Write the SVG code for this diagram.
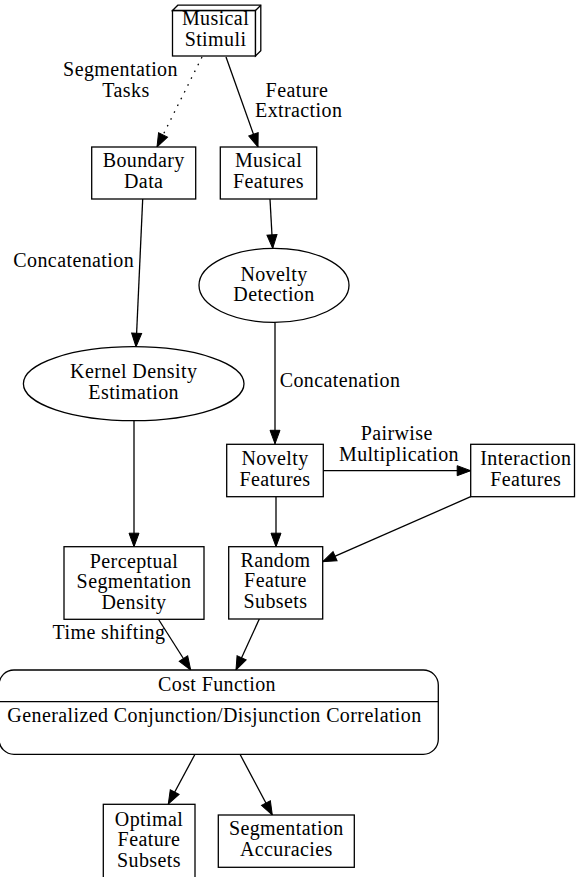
<svg xmlns="http://www.w3.org/2000/svg" width="576" height="877" viewBox="0 0 576 877">
  <style>
    text { font-family: "Liberation Serif", "Times New Roman", serif; font-size: 20px; letter-spacing: 0.4px; fill: #000; text-anchor: middle; }
    .shape { fill: #fff; stroke: #000; stroke-width: 1.3; }
    .edge { fill: none; stroke: #000; stroke-width: 1.3; marker-end: url(#arrow); }
    .dotted { stroke-dasharray: 1.6 6; }
  </style>
  <defs>
    <marker id="arrow" markerUnits="userSpaceOnUse" markerWidth="16" markerHeight="12" refX="13.5" refY="0" viewBox="0 -6 16 12" orient="auto" overflow="visible">
      <path d="M0,-5 L13.5,0 L0,5 z" fill="#000" stroke="#000" stroke-width="1"/>
    </marker>
  </defs>
  <rect width="576" height="877" fill="#fff"/>

  <!-- connectors -->
  <g id="edges">
    <path class="edge dotted" d="M202,57 L157,147"/>
    <path class="edge" d="M226,57 L258,147"/>
    <path class="edge" d="M142.7,199 L136,346.7"/>
    <path class="edge" d="M270,199 L272.7,248.3"/>
    <path class="edge" d="M275,322.3 L275,443.8"/>
    <path class="edge" d="M134,420.7 L134,546.7"/>
    <path class="edge" d="M276,496.7 L276,546.7"/>
    <path class="edge" d="M323.3,470.7 L470.7,470.7"/>
    <path class="edge" d="M470.7,496.7 L322.7,561.7"/>
    <path class="edge" d="M158.3,619 L190.7,670"/>
    <path class="edge" d="M259.3,619 L236,670"/>
    <path class="edge" d="M195,754.3 L168.3,804"/>
    <path class="edge" d="M240,754.3 L272.3,815"/>
    <text x="120.5" y="76">Segmentation</text>
    <text x="126" y="96.5">Tasks</text>
    <text x="297" y="96.5">Feature</text>
    <text x="298.7" y="117">Extraction</text>
    <text x="73.7" y="266.7">Concatenation</text>
    <text x="340" y="387">Concatenation</text>
    <text x="396.7" y="440">Pairwise</text>
    <text x="399" y="460.5">Multiplication</text>
    <text x="109" y="639.3">Time shifting</text>
  </g>

  <g id="musical-stimuli">
    <rect class="shape" x="172.5" y="10.5" width="83" height="45.5"/>
    <path class="shape" d="M172.5,10.5 L177.8,5.2 L260.8,5.2 L260.8,50.7 L255.5,56 L255.5,10.5 Z"/>
    <path d="M255.5,10.5 L260.8,5.2" fill="none" stroke="#000" stroke-width="1.3"/>
    <text x="215.5" y="25">Musical</text>
    <text x="215.5" y="45.5">Stimuli</text>
  </g>

  <g id="boundary-data">
    <rect class="shape" x="91.7" y="147" width="104" height="52"/>
    <text x="143.7" y="167">Boundary</text>
    <text x="143.7" y="187.5">Data</text>
  </g>

  <g id="musical-features">
    <rect class="shape" x="220.3" y="147" width="96.4" height="52"/>
    <text x="268.5" y="167">Musical</text>
    <text x="268.5" y="187.5">Features</text>
  </g>

  <g id="novelty-detection">
    <ellipse class="shape" cx="274" cy="285.3" rx="75" ry="37"/>
    <text x="274" y="280.5">Novelty</text>
    <text x="274" y="301">Detection</text>
  </g>

  <g id="kernel-density-estimation">
    <ellipse class="shape" cx="133.7" cy="383.7" rx="110.3" ry="37"/>
    <text x="133.7" y="378.3">Kernel Density</text>
    <text x="133.7" y="398.8">Estimation</text>
  </g>

  <g id="novelty-features">
    <rect class="shape" x="226.7" y="444.3" width="96.6" height="52.4"/>
    <text x="275" y="465">Novelty</text>
    <text x="275" y="485.5">Features</text>
  </g>

  <g id="interaction-features">
    <rect class="shape" x="470.7" y="444.3" width="103.8" height="52.4"/>
    <text x="525.8" y="465">Interaction</text>
    <text x="525.8" y="485.5">Features</text>
  </g>

  <g id="perceptual-segmentation-density">
    <rect class="shape" x="64" y="546.7" width="140" height="72.6"/>
    <text x="134" y="567.5">Perceptual</text>
    <text x="134" y="588">Segmentation</text>
    <text x="134" y="608.5">Density</text>
  </g>

  <g id="random-feature-subsets">
    <rect class="shape" x="228.7" y="546.7" width="94" height="72.3"/>
    <text x="275.5" y="566.7">Random</text>
    <text x="275.5" y="587.2">Feature</text>
    <text x="275.5" y="607.7">Subsets</text>
  </g>

  <g id="cost-function">
    <rect class="shape" x="-1" y="670" width="439.3" height="84.3" rx="15" ry="15"/>
    <line x1="-1" y1="701.7" x2="438.3" y2="701.7" stroke="#000" stroke-width="1.3"/>
    <text x="217" y="690.7">Cost Function</text>
    <text x="214.5" y="722.3">Generalized Conjunction/Disjunction Correlation</text>
  </g>

  <g id="optimal-feature-subsets">
    <rect class="shape" x="103.3" y="804.3" width="91.7" height="80"/>
    <text x="149" y="825.7">Optimal</text>
    <text x="149" y="846.2">Feature</text>
    <text x="149" y="866.7">Subsets</text>
  </g>

  <g id="segmentation-accuracies">
    <rect class="shape" x="218.3" y="815" width="136" height="52.3"/>
    <text x="286.3" y="835.3">Segmentation</text>
    <text x="286.3" y="855.8">Accuracies</text>
  </g>
</svg>
